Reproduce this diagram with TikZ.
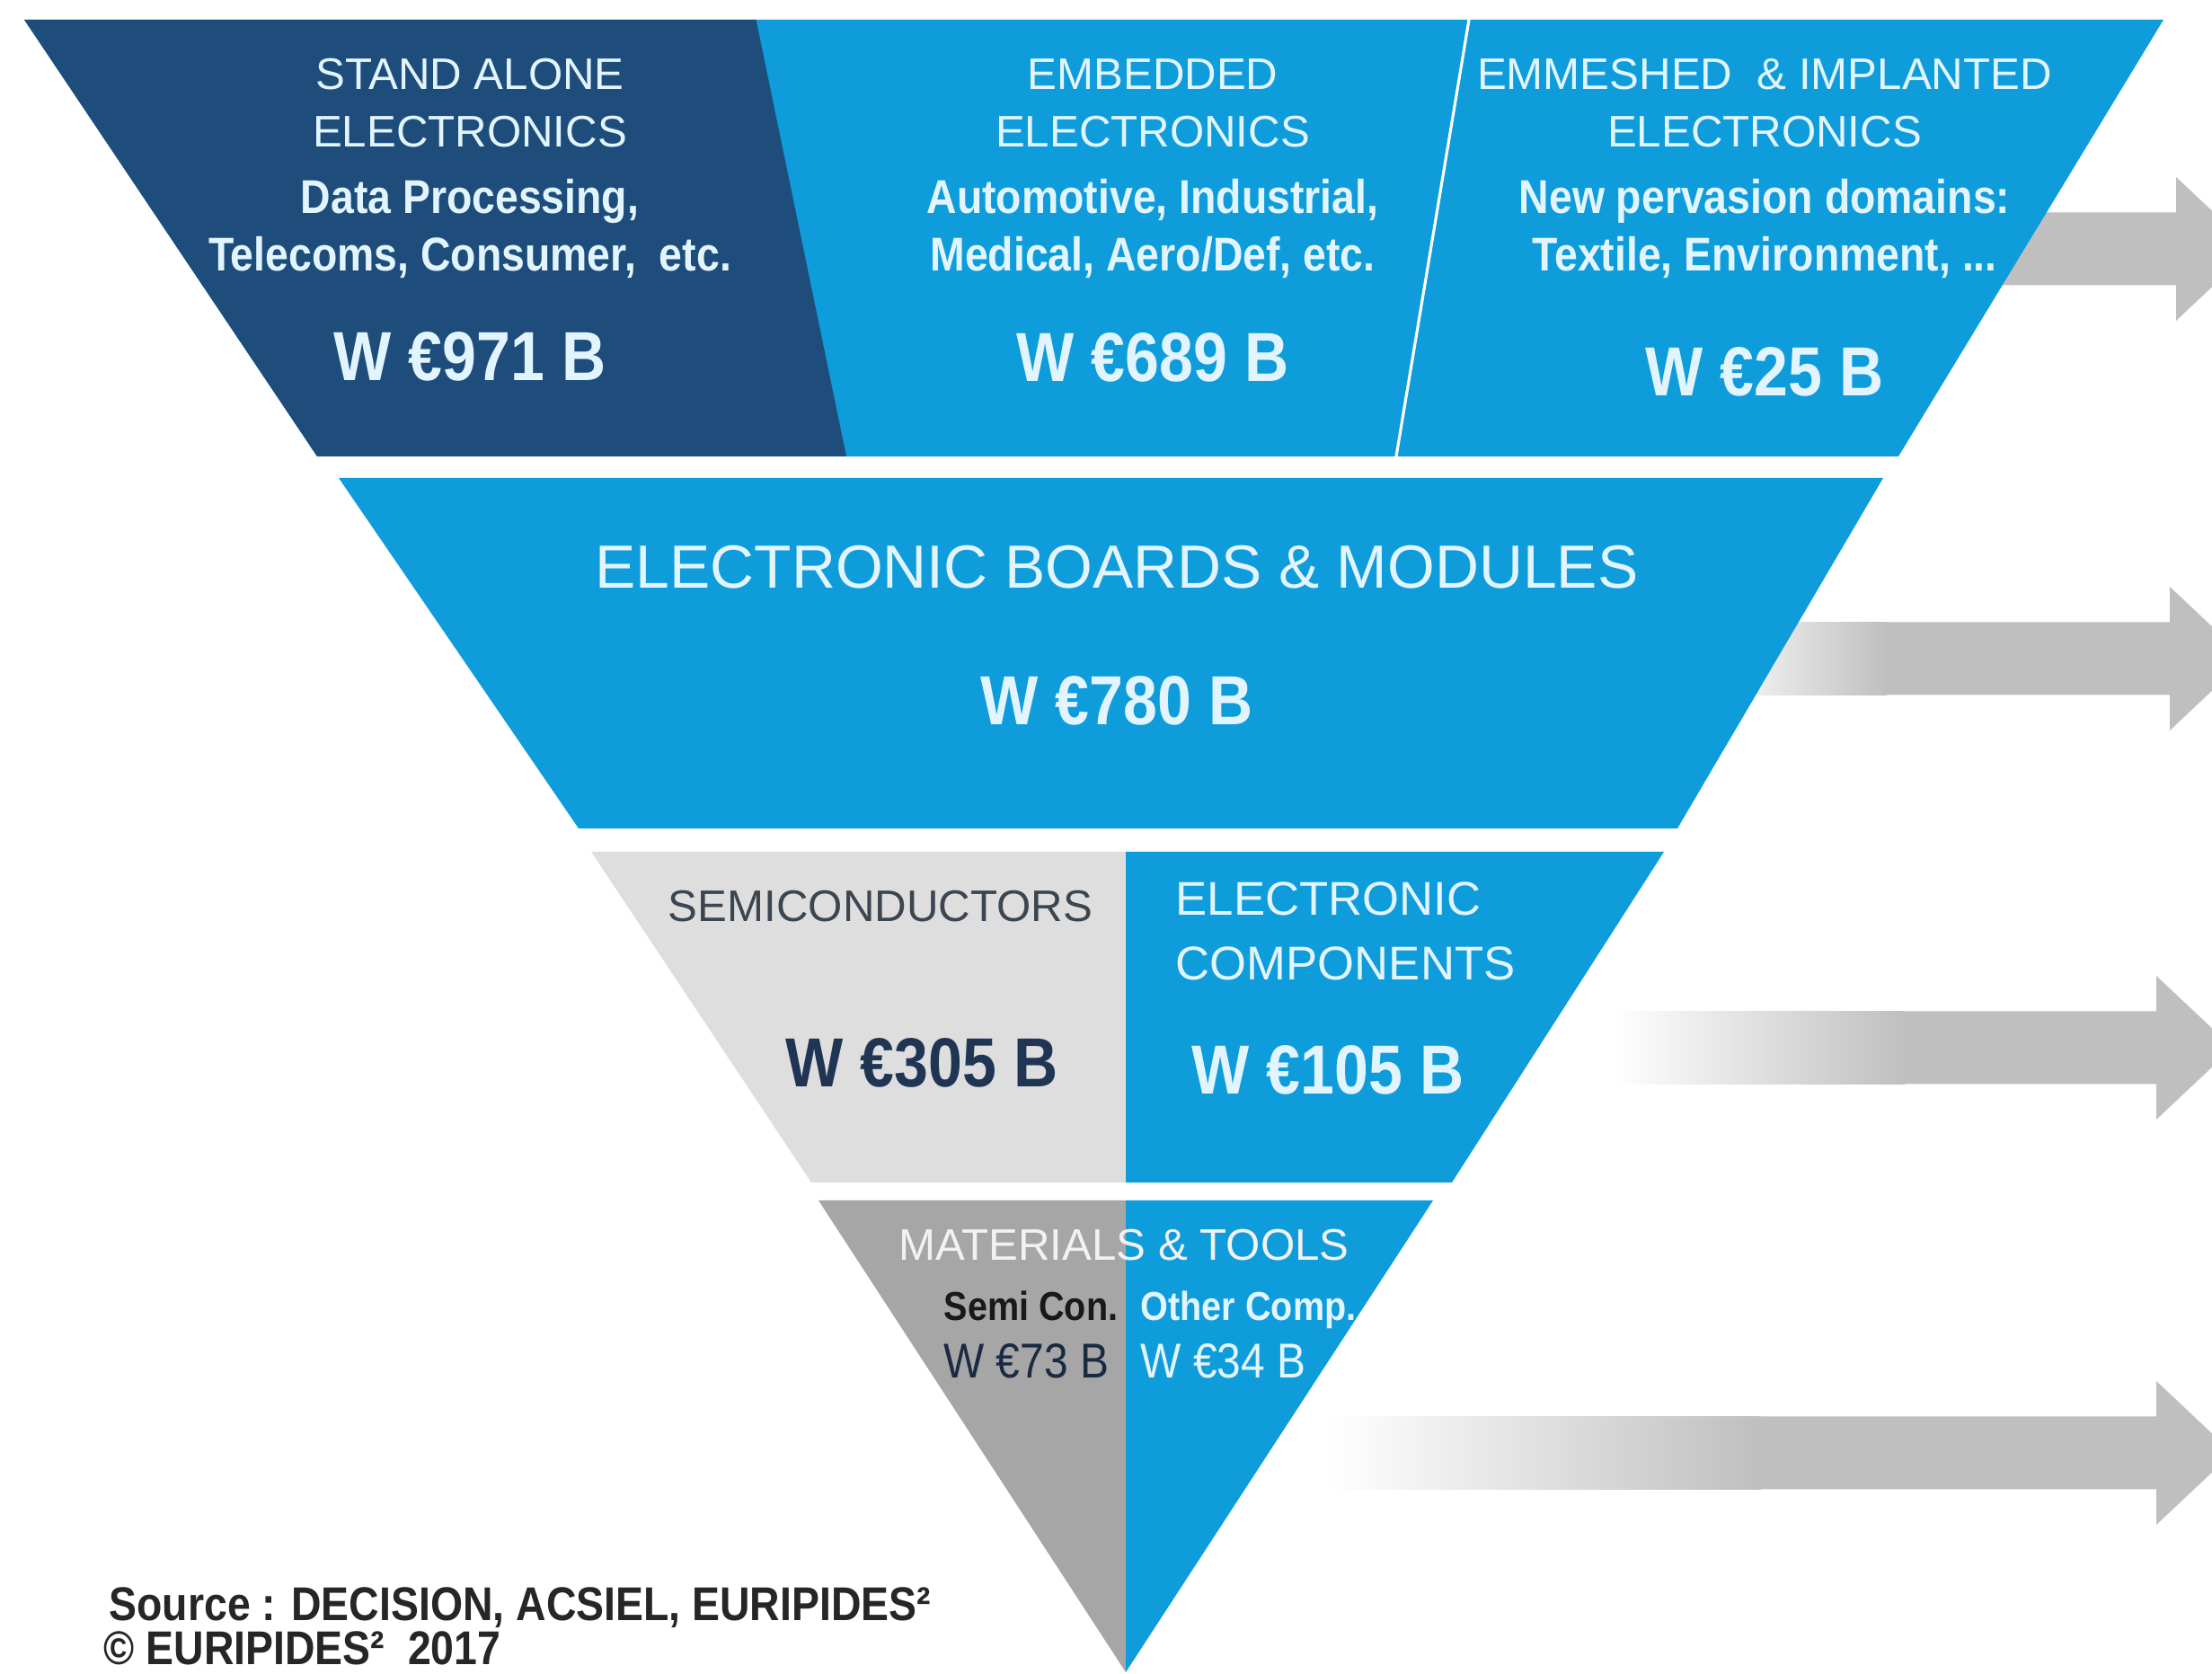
\documentclass[tikz,border=0pt]{standalone}
\usepackage{fontspec}
\setmainfont{Liberation Sans}
\newfontfamily\condfont{Liberation Sans}[FakeStretch=0.88]
\definecolor{bandnavy}{HTML}{1E4D7B}
\definecolor{bandblue}{HTML}{0E9CDB}
\definecolor{lightgrey}{HTML}{DEDEDF}
\definecolor{midgrey}{HTML}{A6A6A6}
\definecolor{arrowgrey}{HTML}{BFBFBF}
\definecolor{paletext}{HTML}{E2F5FF}
\definecolor{darktext}{HTML}{1F3553}
\definecolor{greytext}{HTML}{3C4650}
\tikzset{
    headtext/.style={anchor=base, inner sep=0pt, text=paletext, font=\fontsize{14}{16}\selectfont},
    desctext/.style={anchor=base, inner sep=0pt, text=paletext, font=\condfont\bfseries\fontsize{15}{17}\selectfont},
    moneytext/.style={anchor=base, inner sep=0pt, text=paletext, font=\condfont\bfseries\fontsize{22}{26}\selectfont},
    subtext/.style={anchor=base, inner sep=0pt, font=\condfont\bfseries\fontsize{12.8}{15}\selectfont},
    submoney/.style={anchor=base, inner sep=0pt, font=\condfont\fontsize{15.5}{18}\selectfont},
    sourcetext/.style={anchor=base west, inner sep=0pt, text=black!85, font=\condfont\bfseries\fontsize{15}{18}\selectfont}
}
\begin{document}
\begin{tikzpicture}
    \fill[white] (0,0) rectangle (24.62,18.63);
    \clip (0,0) rectangle (24.62,18.63);
    % arrows behind the triangle
    \foreach \y/\xb/\xs/\xe in {15.86/24.22/19.5/21.5, 11.30/24.15/19.0/21.0, 6.97/24.00/17.95/21.2, 2.46/24.00/14.8/19.6}{
        \shade[left color=white, right color=arrowgrey] (\xs,\y-0.405) rectangle (\xe,\y+0.405);
        \fill[arrowgrey] (\xe-0.01,\y-0.405) -- (\xb,\y-0.405) -- (\xb,\y-0.80) -- (\xb+0.85,\y)
            -- (\xb,\y+0.80) -- (\xb,\y+0.405) -- (\xe-0.01,\y+0.405) -- cycle;
    }
    \begin{scope}
    \clip (0.27,18.41) -- (24.08,18.41) -- (21.13,13.55) -- (3.53,13.55) -- cycle;
    \fill[bandblue] (0,0) rectangle (24.62,18.63);
    \fill[bandnavy] (0,18.63) -- (8.37,18.63) -- (9.42,13.55) -- (0,13.55) -- cycle;
    \end{scope}
    \draw[white, line width=0.9pt] (16.35,18.41) -- (15.54,13.55);
    \fill[bandblue] (3.77,13.31) -- (20.96,13.31) -- (18.67,9.41) -- (6.44,9.41) -- cycle;
    \begin{scope}
    \clip (6.58,9.15) -- (18.52,9.15) -- (16.16,5.47) -- (9.03,5.47) -- cycle;
    \fill[lightgrey] (0,0) rectangle (12.53,18.63);
    \fill[bandblue] (12.53,0) rectangle (24.62,18.63);
    \end{scope}
    \begin{scope}
    \clip (9.11,5.27) -- (15.95,5.27) -- (12.53,0.02) -- cycle;
    \fill[midgrey] (0,0) rectangle (12.53,18.63);
    \fill[bandblue] (12.53,0) rectangle (24.62,18.63);
    \end{scope}
    % stand alone
    \node[headtext] (stand) at (5.23,17.635) {STAND ALONE};
    \node[headtext] (standel) at (5.23,16.995) {ELECTRONICS};
    \node[desctext] (standdp) at (5.23,16.25) {Data Processing,};
    \node[desctext] (standtc) at (5.23,15.61) {Telecoms, Consumer,~ etc.};
    \node[moneytext] (standval) at (5.23,14.39) {W €971 B};
    % embedded
    \node[headtext] (emb) at (12.83,17.635) {EMBEDDED};
    \node[headtext] (embel) at (12.83,16.995) {ELECTRONICS};
    \node[desctext] (embai) at (12.83,16.25) {Automotive, Industrial,};
    \node[desctext] (embma) at (12.83,15.61) {Medical, Aero/Def, etc.};
    \node[moneytext] (embval) at (12.83,14.38) {W €689 B};
    % emmeshed
    \node[headtext] (emm) at (19.64,17.635) {EMMESHED~ \& IMPLANTED};
    \node[headtext] (emmel) at (19.64,16.995) {ELECTRONICS};
    \node[desctext] (emmnp) at (19.64,16.25) {New pervasion domains:};
    \node[desctext] (emmte) at (19.64,15.61) {Textile, Environment, ...};
    \node[moneytext] (emmval) at (19.64,14.22) {W €25 B};
    % boards
    \node[headtext, font=\fontsize{19.3}{22}\selectfont] (boards) at (12.43,12.085) {ELECTRONIC BOARDS \& MODULES};
    \node[moneytext] (boardsval) at (12.43,10.56) {W €780 B};
    % semiconductors and components
    \node[headtext, text=greytext] (semi) at (9.80,8.375) {SEMICONDUCTORS};
    \node[headtext, anchor=base west, font=\fontsize{15}{17}\selectfont] (comp) at (13.08,8.44) {ELECTRONIC};
    \node[headtext, anchor=base west, font=\fontsize{15}{17}\selectfont] (compco) at (13.08,7.72) {COMPONENTS};
    \node[moneytext, text=darktext] (semival) at (10.26,6.53) {W €305 B};
    \node[moneytext] (compval) at (14.78,6.45) {W €105 B};
    % materials
    \node[headtext, text=white!95!black] (mat) at (12.51,4.60) {MATERIALS \& TOOLS};
    \node[subtext, anchor=base east, text=black!90] (matsc) at (12.45,3.93) {Semi Con.};
    \node[submoney, anchor=base east, text=darktext!80!black] (matscval) at (12.35,3.29) {W €73 B};
    \node[subtext, anchor=base west, text=paletext] (matoc) at (12.69,3.93) {Other Comp.};
    \node[submoney, anchor=base west, text=paletext] (matocval) at (12.69,3.29) {W €34 B};
    % source
    \node[sourcetext] (src) at (1.21,0.59) {Source : DECISION, ACSIEL, EURIPIDES²};
    \node[sourcetext] (copy) at (1.15,0.10) {© EURIPIDES²~ 2017};
\end{tikzpicture}
\end{document}
